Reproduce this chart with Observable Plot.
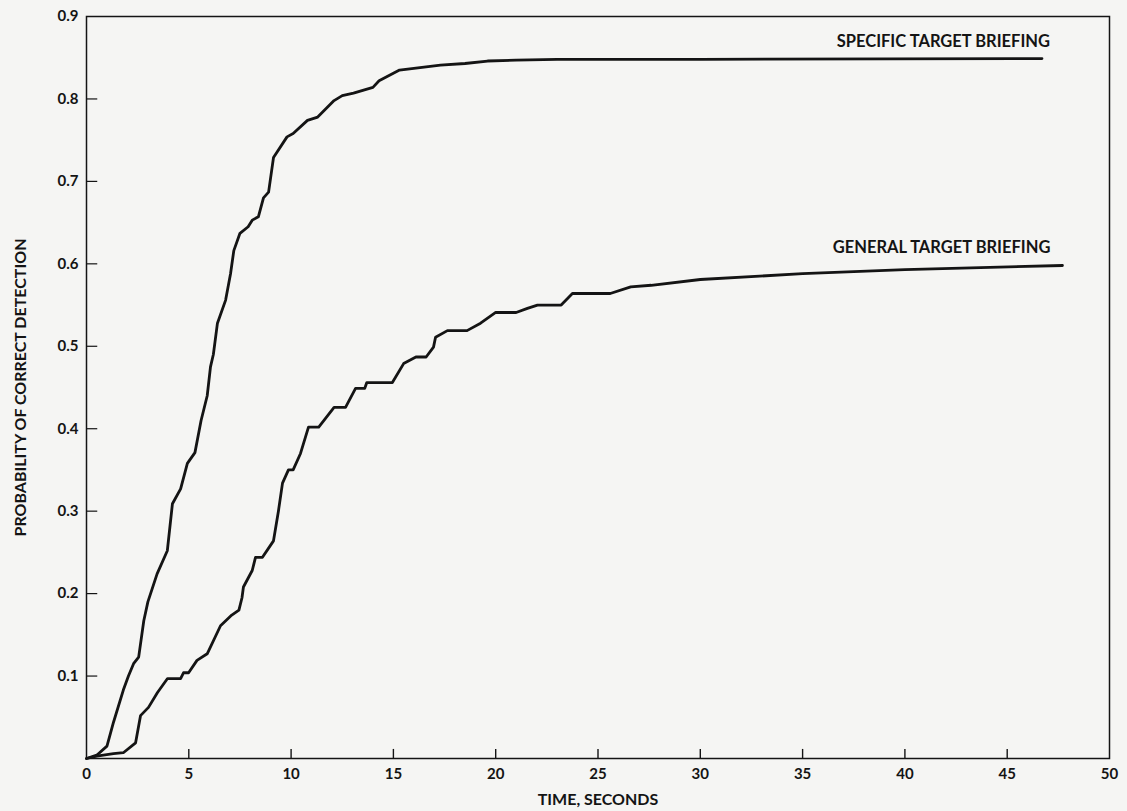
<!DOCTYPE html>
<html>
<head>
<meta charset="utf-8">
<script src="https://cdn.jsdelivr.net/npm/d3@7"></script>
<script src="https://cdn.jsdelivr.net/npm/@observablehq/plot@0.6"></script>
<style>
  html, body { margin: 0; padding: 0; background: #f5f5f3; }
  #chart { width: 1127px; height: 811px; }
</style>
</head>
<body>
<div id="chart"></div>
<script>
// ---- data ----
const specificTime = [0, 0.5, 1.0, 1.32, 1.8, 2.05, 2.3, 2.55, 2.8, 3.0, 3.45, 3.95, 4.2, 4.6, 4.93, 5.3, 5.6, 5.9, 6.06, 6.2, 6.4, 6.8, 7.04, 7.2, 7.5, 7.9, 8.1, 8.4, 8.65, 8.9, 9.14, 9.8, 10.1, 10.8, 11.3, 12.1, 12.5, 13.05, 14.0, 14.3, 15.3, 16.3, 17.3, 18.5, 19.6, 21, 23, 30, 46.7];
const specificProb = [0, 0.004, 0.015, 0.044, 0.083, 0.1, 0.115, 0.123, 0.167, 0.19, 0.224, 0.252, 0.309, 0.327, 0.358, 0.371, 0.41, 0.44, 0.475, 0.49, 0.528, 0.556, 0.588, 0.616, 0.637, 0.645, 0.653, 0.657, 0.68, 0.687, 0.729, 0.754, 0.758, 0.774, 0.778, 0.798, 0.804, 0.807, 0.814, 0.822, 0.835, 0.838, 0.841, 0.843, 0.846, 0.847, 0.848, 0.848, 0.849];

const generalTime = [0, 0.5, 1.32, 1.8, 2.4, 2.64, 3.03, 3.47, 3.96, 4.6, 4.74, 4.99, 5.4, 5.9, 6.55, 7.1, 7.45, 7.6, 7.67, 8.1, 8.26, 8.6, 9.14, 9.38, 9.58, 9.87, 10.1, 10.46, 10.85, 11.35, 12.1, 12.66, 13.15, 13.6, 13.7, 14.95, 15.5, 16.1, 16.6, 16.96, 17.06, 17.64, 18.6, 19.26, 20.0, 21.0, 21.55, 22.04, 23.2, 23.75, 25.6, 26.6, 27.6, 30, 35, 40, 47.7];
const generalProb = [0, 0.003, 0.006, 0.007, 0.019, 0.052, 0.062, 0.08, 0.097, 0.097, 0.104, 0.104, 0.119, 0.127, 0.161, 0.174, 0.18, 0.195, 0.208, 0.228, 0.244, 0.244, 0.264, 0.3, 0.334, 0.35, 0.35, 0.37, 0.402, 0.402, 0.426, 0.426, 0.449, 0.449, 0.456, 0.456, 0.479, 0.487, 0.487, 0.499, 0.511, 0.519, 0.519, 0.528, 0.541, 0.541, 0.546, 0.55, 0.55, 0.564, 0.564, 0.572, 0.574, 0.581, 0.588, 0.593, 0.598];

const seriesNames = ["SPECIFIC TARGET BRIEFING", "GENERAL TARGET BRIEFING"];
const xTicks = [0, 5, 10, 15, 20, 25, 30, 35, 40, 45, 50];
const yTicks = [0.1, 0.2, 0.3, 0.4, 0.5, 0.6, 0.7, 0.8, 0.9];
const xLabel = "TIME, SECONDS";
const yLabel = "PROBABILITY OF CORRECT DETECTION";

// ---- build tables ----
const specific = specificTime.map((t, i) => ({t, p: specificProb[i], s: seriesNames[0]}));
const general = generalTime.map((t, i) => ({t, p: generalProb[i], s: seriesNames[1]}));

const ink = "#141414";
const font = "Lato, 'DejaVu Sans', sans-serif";

const chart = Plot.plot({
  width: 1127,
  height: 811,
  marginLeft: 86,
  marginRight: 18,
  marginTop: 16,
  marginBottom: 53,
  style: {background: "#f5f5f3", color: ink, fontFamily: font, fontSize: "15px", fontWeight: "bold"},
  x: {domain: [0, 50]},
  y: {domain: [0, 0.9]},
  marks: [
    Plot.frame({stroke: ink, strokeWidth: 1.5}),
    // inward tick marks
    Plot.ruleX(xTicks.filter(d => d > 0 && d < 50), {y1: 0, y2: 0.011, stroke: ink, strokeWidth: 1.4}),
    Plot.ruleY(yTicks.filter(d => d < 0.9), {x1: 0, x2: 0.55, stroke: ink, strokeWidth: 1.2}),
    Plot.axisX({ticks: xTicks, tickSize: 0, tickPadding: 10, tickFormat: d => String(d),
      label: xLabel, labelAnchor: "center", labelOffset: 46, labelArrow: "none",
      fontSize: 15, fontWeight: "bold"}),
    Plot.axisY({ticks: yTicks, tickSize: 0, tickPadding: 8, tickFormat: d => d.toFixed(1),
      label: yLabel, labelAnchor: "center", labelOffset: 72, labelArrow: "none",
      fontSize: 15, fontWeight: "bold"}),
    Plot.line(specific, {x: "t", y: "p", stroke: ink, strokeWidth: 2.8, strokeLinejoin: "round"}),
    Plot.line(general, {x: "t", y: "p", stroke: ink, strokeWidth: 2.8, strokeLinejoin: "round"}),
    Plot.text(specific, Plot.selectLast({x: "t", y: "p", text: "s", textAnchor: "end", dx: 8, dy: -17,
      fill: ink, fontSize: 16.5, fontWeight: "bold"})),
    Plot.text(general, Plot.selectLast({x: "t", y: "p", text: "s", textAnchor: "end", dx: -12, dy: -18,
      fill: ink, fontSize: 16.5, fontWeight: "bold"}))
  ]
});
document.getElementById("chart").appendChild(chart);
// enlarge axis titles (Plot applies the tick fontSize to them)
chart.querySelectorAll("g[aria-label='x-axis label'] text, g[aria-label='y-axis label'] text")
  .forEach(t => t.setAttribute("font-size", 16));
</script>
</body>
</html>
